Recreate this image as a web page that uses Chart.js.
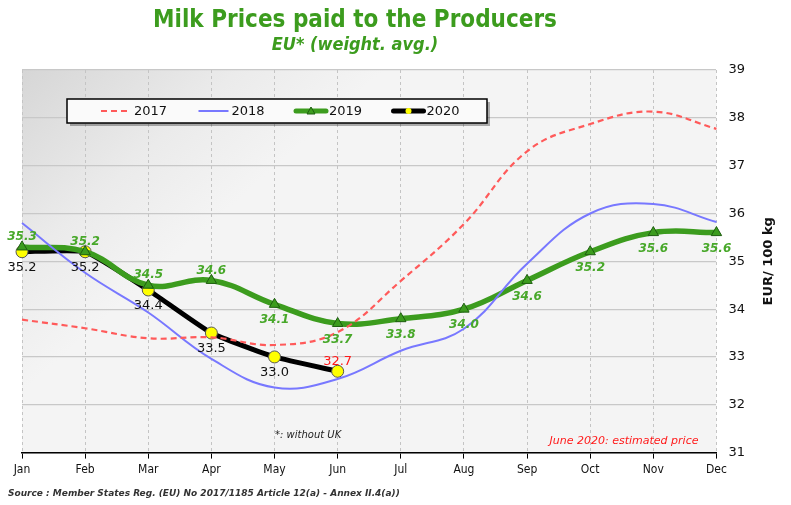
<!DOCTYPE html>
<html>
<head>
<meta charset="utf-8">
<script src="https://cdn.jsdelivr.net/npm/chart.js@4.4.1/dist/chart.umd.min.js"></script>
<style>
  html, body { margin: 0; padding: 0; background: #fff; }
  #wrap { position: relative; width: 791px; height: 505px; }
</style>
</head>
<body>
<div id="wrap"><canvas id="milkChart" width="791" height="505"></canvas></div>
<script>
// values
const months = ['Jan', 'Feb', 'Mar', 'Apr', 'May', 'Jun', 'Jul', 'Aug', 'Sep', 'Oct', 'Nov', 'Dec'];
const prices2017 = [33.78, 33.6, 33.39, 33.41, 33.25, 33.52, 34.59, 35.78, 37.3, 37.87, 38.13, 37.77];
const prices2018 = [35.8, 34.76, 33.93, 32.96, 32.36, 32.54, 33.13, 33.59, 34.95, 36.0, 36.2, 35.82];
const prices2019 = [35.3, 35.2, 34.5, 34.6, 34.1, 33.7, 33.8, 34.0, 34.6, 35.2, 35.6, 35.6];
const prices2020 = [35.2, 35.2, 34.4, 33.5, 33.0, 32.7];
const yTicks = [31, 32, 33, 34, 35, 36, 37, 38, 39];

// which side of the point each label sits
const side2019 = ['up', 'up', 'up', 'up', 'down', 'down', 'down', 'down', 'down', 'down', 'down', 'down'];
const side2020 = ['down', 'down', 'down', 'down', 'down', 'up'];

const green = '#3c9c1e';
const labelGreen = '#48a82a';

const plotBackground = {
    id: 'plotBackground',
    beforeDraw(chart) {
        const { ctx, chartArea: a } = chart;
        const g = ctx.createLinearGradient(a.left, a.top, a.left + 160, a.top + 180);
        g.addColorStop(0, '#d6d6d6');
        g.addColorStop(0.6, '#ebebeb');
        g.addColorStop(1, '#f4f4f4');
        ctx.save();
        ctx.fillStyle = g;
        ctx.fillRect(a.left, a.top, a.right - a.left, a.bottom - a.top);
        ctx.restore();
    }
};

const extras = {
    id: 'extras',
    afterDatasetsDraw(chart) {
        const { ctx, chartArea: a } = chart;
        ctx.save();
        ctx.textAlign = 'center';

        // 2019 labels
        const m19 = chart.getDatasetMeta(2);
        ctx.font = 'italic bold 12px "DejaVu Sans"';
        ctx.fillStyle = labelGreen;
        m19.data.forEach((p, i) => {
            const up = side2019[i] === 'up';
            ctx.textBaseline = up ? 'bottom' : 'top';
            ctx.fillText(prices2019[i].toFixed(1), p.x, up ? p.y - 4 : p.y + 10);
        });

        // 2020 labels
        const m20 = chart.getDatasetMeta(3);
        ctx.font = '13px "DejaVu Sans"';
        m20.data.forEach((p, i) => {
            const up = side2020[i] === 'up';
            ctx.fillStyle = up ? '#ff1a1a' : '#111';
            ctx.textBaseline = up ? 'bottom' : 'top';
            ctx.fillText(prices2020[i].toFixed(1), p.x, up ? p.y - 3 : p.y + 9);
        });

        // notes
        ctx.font = 'italic 10px "DejaVu Sans"';
        ctx.fillStyle = '#222';
        ctx.textBaseline = 'middle';
        ctx.textAlign = 'left';
        ctx.fillText('*: without UK', a.left + 253, a.bottom - 17);
        ctx.font = 'italic 11px "DejaVu Sans"';
        ctx.fillStyle = '#ff1a1a';
        ctx.textAlign = 'right';
        ctx.fillText('June 2020: estimated price', a.right - 18, a.bottom - 11);

        // legend box
        const lx = a.left + 45, ly = a.top + 29, lw = 420, lh = 24;
        ctx.fillStyle = 'rgba(0,0,0,0.3)';
        ctx.fillRect(lx + 3, ly + 3, lw, lh);
        ctx.fillStyle = '#fafafa';
        ctx.fillRect(lx, ly, lw, lh);
        ctx.strokeStyle = '#000';
        ctx.lineWidth = 1.5;
        ctx.strokeRect(lx, ly, lw, lh);
        ctx.font = '13px "DejaVu Sans"';
        ctx.textAlign = 'left';
        ctx.textBaseline = 'middle';
        chart.data.datasets.forEach((ds, i) => {
            const sx = lx + 34 + i * 97.5, sy = ly + lh / 2;
            ctx.save();
            ctx.strokeStyle = ds.borderColor;
            ctx.lineWidth = Math.min(ds.borderWidth, 5);
            ctx.setLineDash(ds.borderDash || []);
            ctx.lineCap = ds.borderWidth > 3 ? 'round' : 'butt';
            ctx.beginPath();
            ctx.moveTo(sx, sy);
            ctx.lineTo(sx + 30, sy);
            ctx.stroke();
            ctx.restore();
            if (ds.pointStyle === 'triangle') {
                ctx.fillStyle = green;
                ctx.strokeStyle = '#1e5e10';
                ctx.lineWidth = 1;
                ctx.beginPath();
                ctx.moveTo(sx + 15, sy - 4);
                ctx.lineTo(sx + 19, sy + 3);
                ctx.lineTo(sx + 11, sy + 3);
                ctx.closePath();
                ctx.fill();
                ctx.stroke();
            } else if (ds.pointRadius > 0) {
                ctx.fillStyle = '#ffff00';
                ctx.beginPath();
                ctx.arc(sx + 15, sy, 3, 0, Math.PI * 2);
                ctx.fill();
            }
            ctx.fillStyle = '#111';
            ctx.fillText(ds.label, sx + 33, sy + 1);
        });

        ctx.restore();
    }
};

const frameText = {
    id: 'frameText',
    afterDraw(chart) {
        const { ctx, chartArea: a } = chart;
        ctx.save();
        // titles
        ctx.textAlign = 'center';
        ctx.textBaseline = 'middle';
        ctx.fillStyle = green;
        ctx.font = 'bold 24px "DejaVu Sans Condensed", "DejaVu Sans"';
        ctx.fillText('Milk Prices paid to the Producers', 355, 21);
        ctx.font = 'italic bold 18px "DejaVu Sans Condensed", "DejaVu Sans"';
        ctx.fillText('EU* (weight. avg.)', 355, 45);

        // y axis title, reading upward
        ctx.save();
        ctx.translate(769, (a.top + a.bottom) / 2);
        ctx.rotate(-Math.PI / 2);
        ctx.fillStyle = '#111';
        ctx.font = 'bold 13px "DejaVu Sans"';
        ctx.fillText('EUR/ 100 kg', 0, 0);
        ctx.restore();

        // source
        ctx.textAlign = 'left';
        ctx.font = 'italic bold 9px "DejaVu Sans"';
        ctx.fillStyle = '#333';
        ctx.fillText('Source : Member States Reg. (EU) No 2017/1185 Article 12(a) - Annex II.4(a))', 8, 494);
        ctx.restore();
    }
};

const ctx = document.getElementById('milkChart').getContext('2d');
new Chart(ctx, {
    type: 'line',
    data: {
        labels: months,
        datasets: [
            {
                label: '2017',
                data: prices2017,
                borderColor: '#ff5a5a',
                borderWidth: 2.2,
                borderDash: [6, 4],
                pointRadius: 0,
                tension: 0.4
            },
            {
                label: '2018',
                data: prices2018,
                borderColor: '#7878ff',
                borderWidth: 2,
                pointRadius: 0,
                tension: 0.4
            },
            {
                label: '2019',
                data: prices2019,
                borderColor: green,
                borderWidth: 5.5,
                pointStyle: 'triangle',
                pointRadius: 6,
                pointBackgroundColor: green,
                pointBorderColor: '#1e5e10',
                pointBorderWidth: 1,
                tension: 0.4
            },
            {
                label: '2020',
                data: prices2020,
                borderColor: '#000',
                borderWidth: 5,
                pointRadius: 6,
                pointBackgroundColor: '#ffff00',
                pointBorderColor: '#555',
                pointBorderWidth: 1,
                tension: 0.15
            }
        ]
    },
    options: {
        responsive: false,
        animation: false,
        layout: { padding: { left: 22, right: 34, top: 70, bottom: 24 } },
        plugins: {
            legend: { display: false },
            tooltip: { enabled: false }
        },
        scales: {
            x: {
                offset: false,
                grid: {
                    color: '#c4c4c4',
                    tickColor: '#000',
                    tickLength: 6,
                    drawOnChartArea: true
                },
                border: { color: '#000', width: 1.5, dash: [3, 3] },
                ticks: {
                    color: '#111',
                    font: { family: '"DejaVu Sans Condensed", "DejaVu Sans"', size: 12 },
                    maxRotation: 0,
                    padding: 4
                }
            },
            y: {
                position: 'right',
                min: 31,
                max: 39,
                afterBuildTicks(axis) { axis.ticks = yTicks.map(v => ({ value: v })); },
                grid: { color: '#c8c8c8', lineWidth: 1.2, drawTicks: false },
                border: { display: false },
                ticks: {
                    color: '#111',
                    font: { family: '"DejaVu Sans"', size: 13 },
                    padding: 12
                }
            }
        }
    },
    plugins: [plotBackground, extras, frameText]
});
</script>
</body>
</html>
